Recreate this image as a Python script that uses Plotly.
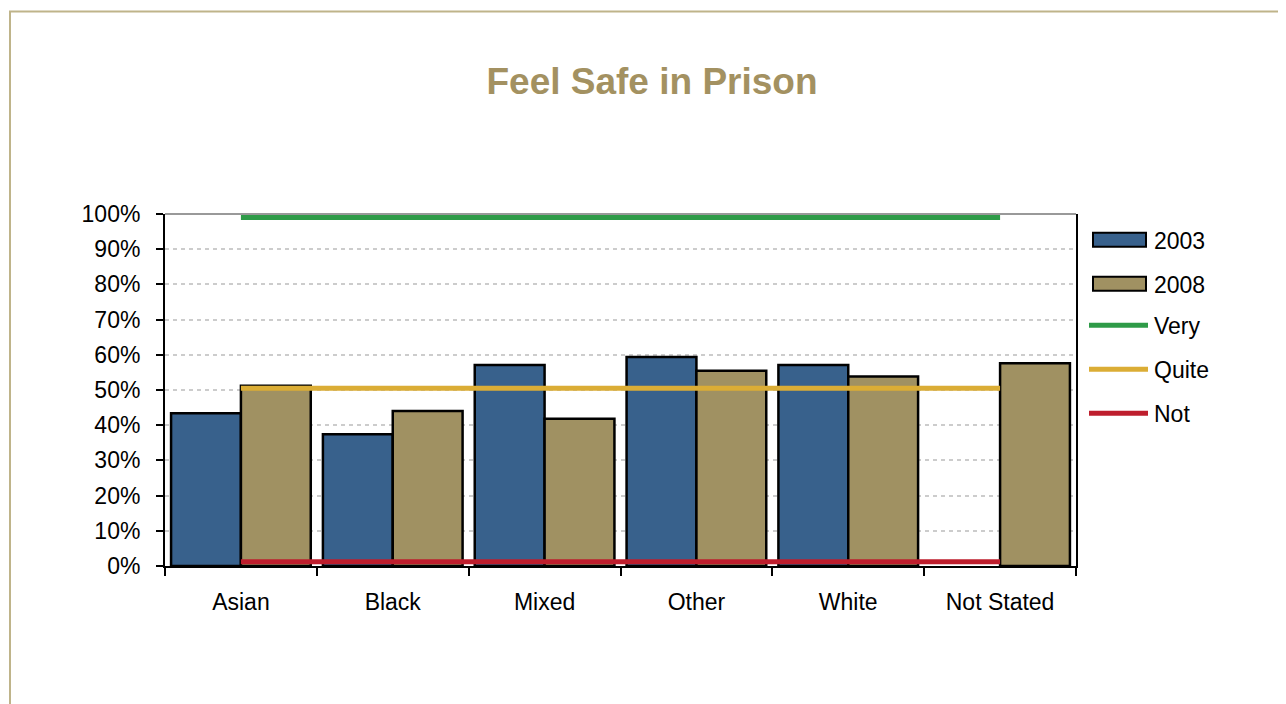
import plotly.graph_objects as go

categories = ["Asian", "Black", "Mixed", "Other", "White", "Not Stated"]
y2003 = [43.4, 37.4, 57.1, 59.4, 57.1, None]
y2008 = [51.2, 44.0, 41.8, 55.5, 53.8, 57.6]
very = [99, 99, 99, 99, 99, 99]
quite = [50.5, 50.5, 50.5, 50.5, 50.5, 50.5]
not_safe = [1.2, 1.2, 1.2, 1.2, 1.2, 1.2]
y_ticks = [0, 10, 20, 30, 40, 50, 60, 70, 80, 90, 100]
y_labels = [f"{v}%" for v in y_ticks]

BAR_COLORS = {"2003": "#38618C", "2008": "#A09162"}
LINE_COLORS = {"Very": "#2E9B48", "Quite": "#DBAD35", "Not": "#BE1E2D"}

# page has an 8px body margin; work in page coordinates and convert
OFF = 8
W, H = 1286 - OFF, 704 - OFF
L, R, T, B = 165 - OFF, 1076 - OFF, 214 - OFF, 566 - OFF


def px(x):
    return (x - OFF - L) / (R - L)


def py(y):
    return (B - (y - OFF)) / (B - T)


fig = go.Figure()
fig.add_trace(go.Bar(x=categories, y=y2003, name="2003",
                     marker=dict(color=BAR_COLORS["2003"], line=dict(color="black", width=2.5))))
fig.add_trace(go.Bar(x=categories, y=y2008, name="2008",
                     marker=dict(color=BAR_COLORS["2008"], line=dict(color="black", width=2.5))))
fig.add_trace(go.Scatter(x=categories, y=very, name="Very", mode="lines",
                         line=dict(color=LINE_COLORS["Very"], width=5)))
fig.add_trace(go.Scatter(x=categories, y=quite, name="Quite", mode="lines",
                         line=dict(color=LINE_COLORS["Quite"], width=5)))
fig.add_trace(go.Scatter(x=categories, y=not_safe, name="Not", mode="lines",
                         line=dict(color=LINE_COLORS["Not"], width=5)))

shapes = [
    dict(type="line", xref="paper", yref="paper", x0=0, x1=1, y0=1, y1=1,
         line=dict(color="#999999", width=2)),
    dict(type="rect", xref="paper", yref="paper", x0=px(10), x1=px(1300),
         y0=py(720), y1=py(11.5), line=dict(color="#BFB48A", width=2),
         fillcolor="rgba(0,0,0,0)", layer="below"),
]
annotations = []

# legend (drawn manually to match the wide bar swatches)
legend_items = [("2003", "bar", 239.7), ("2008", "bar", 283.7),
                ("Very", "line", 325.3), ("Quite", "line", 369.3), ("Not", "line", 413.3)]
for name, kind, yc in legend_items:
    if kind == "bar":
        shapes.append(dict(type="rect", xref="paper", yref="paper",
                           x0=px(1093), x1=px(1146), y0=py(yc + 7), y1=py(yc - 7),
                           fillcolor=BAR_COLORS[name], line=dict(color="black", width=2)))
    else:
        shapes.append(dict(type="line", xref="paper", yref="paper",
                           x0=px(1089), x1=px(1148), y0=py(yc), y1=py(yc),
                           line=dict(color=LINE_COLORS[name], width=5)))
    annotations.append(dict(text=name, xref="paper", yref="paper", x=px(1152), y=py(yc + 1),
                            xanchor="left", yanchor="middle", showarrow=False,
                            font=dict(size=23, color="black")))

fig.update_layout(
    width=W, height=H,
    margin=dict(l=L, r=W - R, t=T, b=H - B, pad=0),
    paper_bgcolor="white", plot_bgcolor="white",
    font=dict(family="Liberation Sans, Arial, sans-serif", size=23, color="black"),
    title=dict(text="<b>Feel Safe in Prison</b>", x=(652 - OFF) / W, xanchor="center",
               y=1 - (81 - OFF) / H, yanchor="middle",
               font=dict(size=37, color="#A39161")),
    barmode="group", bargap=0.08, bargroupgap=0,
    showlegend=False,
    xaxis=dict(showline=True, linecolor="black", linewidth=2,
               ticks="outside", tickson="boundaries", ticklen=8, tickwidth=2,
               tickcolor="black", showgrid=False, ticklabelstandoff=14,
               tickfont=dict(size=23)),
    yaxis=dict(range=[0, 100], tickvals=y_ticks, ticktext=y_labels,
               showline=True, linecolor="black", linewidth=2, mirror=True,
               ticks="outside", ticklen=7, tickwidth=2, tickcolor="black",
               ticklabelstandoff=11,
               showgrid=True, gridcolor="#CCCCCC", gridwidth=2, griddash="4px,4px",
               zeroline=False, tickfont=dict(size=23)),
    shapes=shapes,
    annotations=annotations,
)

fig.write_html("out.html")
